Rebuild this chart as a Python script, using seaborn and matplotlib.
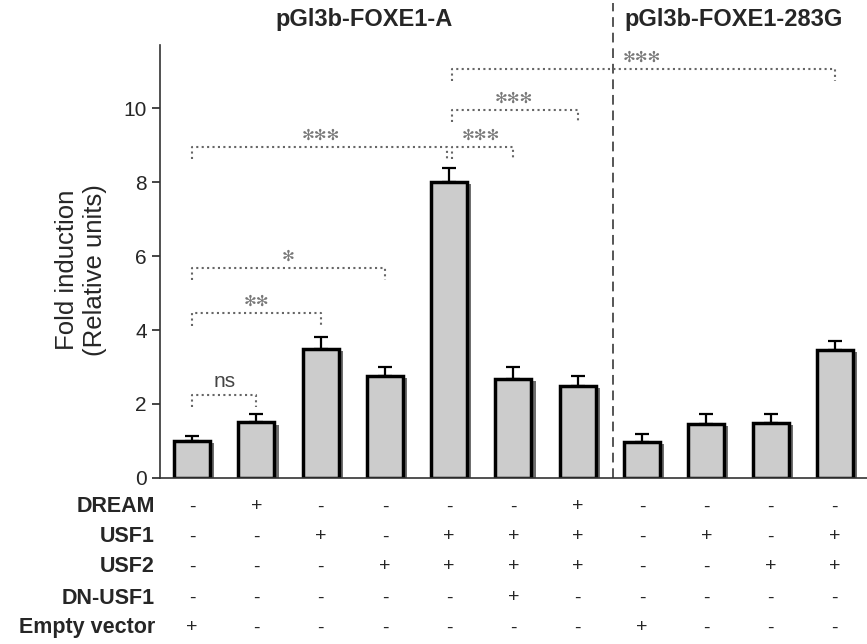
import numpy as np
import pandas as pd
import seaborn as sns
import matplotlib
matplotlib.use("Agg")
import matplotlib.pyplot as plt
import matplotlib.patheffects as pe

# values
fold = [1.0, 1.5, 3.48, 2.77, 8.0, 2.68, 2.5, 0.98, 1.45, 1.48, 3.46]
err = [0.13, 0.22, 0.32, 0.23, 0.38, 0.32, 0.25, 0.2, 0.28, 0.25, 0.25]
bar_ids = [str(i) for i in range(11)]

row_names = ["DREAM", "USF1", "USF2", "DN-USF1", "Empty vector"]
dream = ["-", "+", "-", "-", "-", "-", "+", "-", "-", "-", "-"]
usf1 = ["-", "-", "+", "-", "+", "+", "+", "-", "+", "-", "+"]
usf2 = ["-", "-", "-", "+", "+", "+", "+", "-", "-", "+", "+"]
dn_usf1 = ["-", "-", "-", "-", "-", "+", "-", "-", "-", "-", "-"]
empty_vec = ["+", "-", "-", "-", "-", "-", "-", "+", "-", "-", "-"]

group_titles = ["pGl3b-FOXE1-A", "pGl3b-FOXE1-283G"]

# significance brackets: (start bar, end bar, height, label, label x)
brackets = [
    (0, 1, 2.24, "ns", 0.5),
    (0, 2, 4.45, "**", 1.0),
    (0, 3, 5.67, "*", 1.5),
    (0, 4, 8.95, "***", 2.0),
    (4, 5, 8.95, "***", 4.5),
    (4, 6, 9.95, "***", 5.0),
    (4, 10, 11.05, "***", 7.0),
]

sns.set_style("ticks")
plt.rcParams['font.family'] = ['Liberation Sans', 'DejaVu Sans']

fig = plt.figure(figsize=(8.67, 6.44), dpi=100)
ax = fig.add_axes([0.1845, 0.2578, 0.8155, 0.672])

df = pd.DataFrame({"bar": bar_ids, "fold": fold})
sns.barplot(data=df, x="bar", y="fold", color="#cccccc", saturation=1,
            edgecolor="black", linewidth=2.5, width=0.56, ax=ax, errorbar=None)
for p in ax.patches:
    p.set_path_effects([pe.SimplePatchShadow(offset=(3, -1.5), shadow_rgbFace="#333333", alpha=0.7),
                        pe.Normal()])

xs = np.arange(len(fold))
ax.errorbar(xs, fold, yerr=[np.zeros(len(err)), err], fmt="none",
            ecolor="black", elinewidth=1.6, capsize=5, capthick=1.6, zorder=1)

ax.set_xlim(-0.5, 10.5)
ax.set_ylim(0, 11.7)
ax.set_yticks([0, 2, 4, 6, 8, 10])
ax.tick_params(axis="y", labelsize=15, length=6, width=1.2)
ax.tick_params(axis="x", bottom=False, labelbottom=False)
ax.set_xlabel("")
ax.set_ylabel("Fold induction\n(Relative units)", fontsize=18.5, labelpad=4)
ax.yaxis.set_label_coords(-0.075, 0.48)
sns.despine(ax=ax, top=True, right=True)
for s in ["left", "bottom"]:
    ax.spines[s].set_linewidth(1.2)
    ax.spines[s].set_color("#333333")

# separator between the two constructs
ax.plot([6.55, 6.55], [0, 12.85], ls=(0, (5, 3)), color="#555555", lw=1.4, clip_on=False)

ax.text(2.67, 12.4, group_titles[0], ha="center", va="center", fontsize=17, fontweight="bold")
ax.text(8.42, 12.4, group_titles[1], ha="center", va="center", fontsize=17, fontweight="bold")

dot = (0, (1, 1.6))
for a, b, h, lab, tx in brackets:
    xa = a + (0.04 if a == 4 else 0)
    xb = b - (0.04 if b == 4 else 0)
    ax.plot([xa, xa, xb, xb], [h - 0.33, h, h, h - 0.33], ls=dot, color="#666666", lw=1.5, clip_on=False)
    if lab == "ns":
        ax.text(tx, h + 0.12, lab, ha="center", va="bottom", fontsize=15, color="#444444")
    else:
        stars = "\u273b" * len(lab)
        ax.text(tx, h + 0.32, stars, ha="center", va="center", fontsize=11,
                color="#777777", family=["DejaVu Sans"])

# condition table under the axis
rows = [dream, usf1, usf2, dn_usf1, empty_vec]
row_y = [507, 537, 567, 598, 628]
tr = ax.get_xaxis_transform()
for name, vals, ypx in zip(row_names, rows, row_y):
    yf = 1 - ypx / 644
    fig.text(155 / 867, yf, name, ha="right", va="center", fontsize=15.5, fontweight="bold")
    ya = (478 - ypx) / 433
    for i, v in enumerate(vals):
        ax.text(i, ya, v, transform=tr, ha="center", va="center", fontsize=14, clip_on=False)

plt.savefig("out.png", dpi=100)
plt.close()
